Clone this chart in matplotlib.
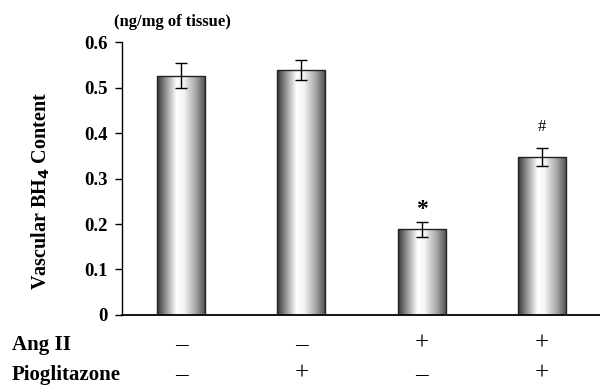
import numpy as np
import matplotlib.pyplot as plt
from matplotlib.colors import LinearSegmentedColormap
from matplotlib.patches import Rectangle

plt.rcParams['font.family'] = ['Liberation Serif', 'DejaVu Serif']
plt.rcParams['font.weight'] = 'bold'

# data
groups = [0, 1, 2, 3]
bh4 = [0.526, 0.538, 0.188, 0.348]
sem = [0.027, 0.022, 0.016, 0.020]
marks = ['', '', '*', '#']
ang_ii = ['\u2013', '\u2013', '+', '+']
piog = ['\u2013', '+', '\u2013', '+']

fig = plt.figure(figsize=(6, 3.86), dpi=100)
ax = fig.add_axes([0.2033, 0.184, 0.7967, 0.707])

# metallic gradient for the bars
shade = LinearSegmentedColormap.from_list('cyl', [
    (0.0, '#333333'), (0.15, '#858585'), (0.4, '#ffffff'),
    (0.55, '#f4f4f4'), (0.8, '#a4a4a4'), (1.0, '#4a4a4a')])
grad = np.linspace(0, 1, 256).reshape(1, -1)
w = 0.4
for x, h in zip(groups, bh4):
    rect = Rectangle((x - w / 2, 0), w, h, facecolor='none',
                     edgecolor='#222222', lw=1.0, zorder=3)
    ax.add_patch(rect)
    im = ax.imshow(grad, cmap=shade, aspect='auto',
                   extent=(x - w / 2, x + w / 2, 0, h), zorder=2)
    im.set_clip_path(rect)

ax.errorbar(groups, bh4, yerr=sem, fmt='none', ecolor='black',
            elinewidth=1, capsize=4.5, capthick=1, zorder=4)

for x, h, e, m in zip(groups, bh4, sem, marks):
    if m == '*':
        ax.text(x, h + e + 0.005, m, ha='center', va='bottom', fontsize=17)
    elif m:
        ax.text(x, h + e + 0.027, m, ha='center', va='bottom',
                fontsize=12, fontweight='normal')

ax.set_xlim(-0.49, 3.48)
ax.set_ylim(0, 0.6)
ax.set_yticks([0, 0.1, 0.2, 0.3, 0.4, 0.5, 0.6])
ax.set_yticklabels(['0', '0.1', '0.2', '0.3', '0.4', '0.5', '0.6'])
ax.set_xticks([])
ax.spines['top'].set_visible(False)
ax.spines['right'].set_visible(False)
ax.spines['left'].set_linewidth(1)
ax.spines['bottom'].set_linewidth(1.3)
ax.tick_params(axis='y', direction='out', length=5, width=1,
               labelsize=13.5, pad=5)
for lab in ax.get_yticklabels():
    lab.set_fontweight('bold')

ax.set_ylabel('Vascular BH$_\\mathbf{4}$ Content', fontsize=14.5,
              fontweight='bold', va='center')
ax.yaxis.set_label_coords(-0.17, 0.455)
fig.text(0.288, 1 - 22 / 386, '(ng/mg of tissue)', ha='center', va='center',
         fontsize=12, fontweight='bold')

# treatment rows under the axis
tr = ax.get_xaxis_transform()
for x, a, p in zip(groups, ang_ii, piog):
    ax.text(x, -0.105, a, transform=tr, ha='center', va='center',
            fontsize=18, fontweight='normal')
    ax.text(x, -0.215, p, transform=tr, ha='center', va='center',
            fontsize=18, fontweight='normal')
fig.text(0.02, 1 - 345 / 386, 'Ang II', ha='left', va='center',
         fontsize=15, fontweight='bold')
fig.text(0.02, 1 - 375 / 386, 'Pioglitazone', ha='left', va='center',
         fontsize=15, fontweight='bold')

fig.savefig('out.png', dpi=100)
